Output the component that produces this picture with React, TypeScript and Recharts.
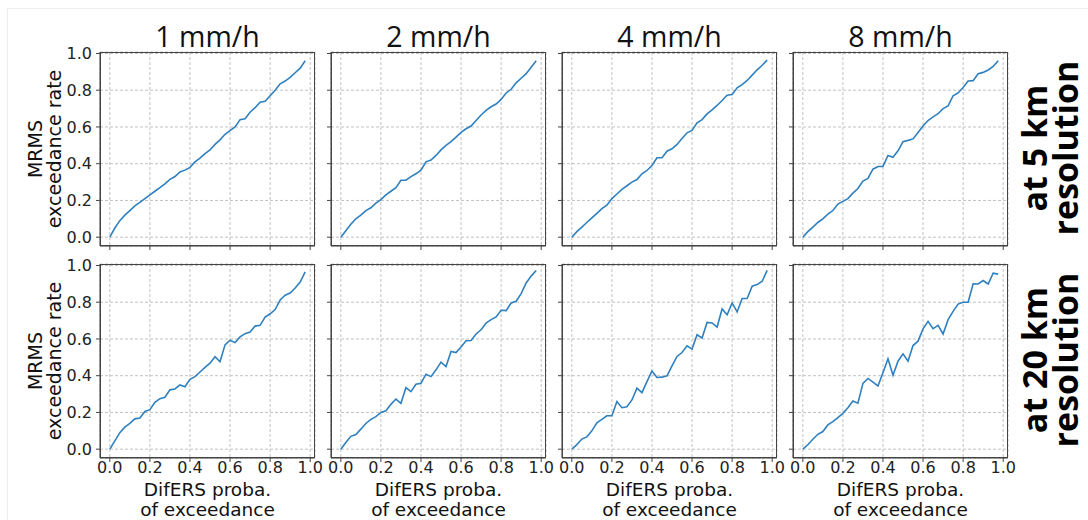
import React from "react";
import { LineChart, Line, XAxis, YAxis, CartesianGrid } from "recharts";

// DifERS probability of exceedance (x positions shared by all panels)
const PROBA = [
  0.0, 0.025, 0.05, 0.075, 0.1, 0.125, 0.15, 0.175, 0.2, 0.225,
  0.25, 0.275, 0.3, 0.325, 0.35, 0.375, 0.4, 0.425, 0.45, 0.475,
  0.5, 0.525, 0.55, 0.575, 0.6, 0.625, 0.65, 0.675, 0.7, 0.725,
  0.75, 0.775, 0.8, 0.825, 0.85, 0.875, 0.9, 0.925, 0.95, 0.975,
];

const THRESHOLDS = ["1 mm/h", "2 mm/h", "4 mm/h", "8 mm/h"];
const ROW_LABELS = [
  ["at 5 km", "resolution"],
  ["at 20 km", "resolution"],
];
const TICKS = [0, 0.2, 0.4, 0.6, 0.8, 1.0];

// MRMS exceedance rate, 5 km resolution
const RATE_5KM_1MM = [
  0.0, 0.05, 0.09, 0.12, 0.145, 0.17, 0.19, 0.21, 0.23, 0.25,
  0.27, 0.29, 0.315, 0.33, 0.355, 0.365, 0.38, 0.41, 0.43, 0.455,
  0.475, 0.505, 0.53, 0.56, 0.58, 0.6, 0.64, 0.645, 0.68, 0.705,
  0.735, 0.74, 0.77, 0.8, 0.835, 0.85, 0.87, 0.895, 0.92, 0.96,
];
const RATE_5KM_2MM = [
  0.0, 0.035, 0.07, 0.1, 0.12, 0.145, 0.16, 0.185, 0.205, 0.23,
  0.25, 0.27, 0.31, 0.31, 0.33, 0.345, 0.365, 0.41, 0.42, 0.445,
  0.475, 0.5, 0.52, 0.545, 0.57, 0.59, 0.605, 0.635, 0.665, 0.69,
  0.71, 0.725, 0.75, 0.785, 0.805, 0.84, 0.865, 0.89, 0.925, 0.96,
];
const RATE_5KM_4MM = [
  0.0, 0.03, 0.055, 0.08, 0.105, 0.13, 0.155, 0.174, 0.21, 0.235,
  0.26, 0.28, 0.3, 0.314, 0.345, 0.363, 0.39, 0.432, 0.432, 0.468,
  0.481, 0.505, 0.537, 0.568, 0.581, 0.622, 0.64, 0.671, 0.693, 0.717,
  0.744, 0.773, 0.777, 0.813, 0.83, 0.853, 0.882, 0.911, 0.936, 0.964,
];
const RATE_5KM_8MM = [
  0.0, 0.03, 0.055, 0.08, 0.1, 0.125, 0.145, 0.18, 0.195, 0.21,
  0.24, 0.265, 0.305, 0.32, 0.37, 0.385, 0.385, 0.445, 0.435, 0.47,
  0.52, 0.527, 0.535, 0.57, 0.605, 0.635, 0.655, 0.672, 0.7, 0.715,
  0.77, 0.785, 0.815, 0.85, 0.852, 0.89, 0.897, 0.91, 0.93, 0.96,
];

// MRMS exceedance rate, 20 km resolution
const RATE_20KM_1MM = [
  0.0, 0.045, 0.09, 0.12, 0.14, 0.165, 0.17, 0.205, 0.215, 0.255,
  0.275, 0.283, 0.323, 0.328, 0.35, 0.34, 0.38, 0.395, 0.42, 0.445,
  0.468, 0.503, 0.476, 0.568, 0.593, 0.58, 0.611, 0.629, 0.638, 0.67,
  0.674, 0.719, 0.737, 0.76, 0.812, 0.838, 0.85, 0.877, 0.91, 0.965,
];
const RATE_20KM_2MM = [
  0.0, 0.036, 0.07, 0.08, 0.109, 0.14, 0.162, 0.177, 0.2, 0.209,
  0.244, 0.273, 0.25, 0.335, 0.313, 0.353, 0.359, 0.408, 0.395, 0.432,
  0.474, 0.45, 0.532, 0.526, 0.556, 0.59, 0.592, 0.627, 0.65, 0.687,
  0.705, 0.72, 0.756, 0.754, 0.796, 0.805, 0.847, 0.905, 0.942, 0.973,
];
const RATE_20KM_4MM = [
  0.0, 0.025, 0.055, 0.067, 0.1, 0.144, 0.162, 0.182, 0.182, 0.259,
  0.226, 0.231, 0.268, 0.332, 0.308, 0.368, 0.426, 0.39, 0.392, 0.399,
  0.454, 0.505, 0.526, 0.563, 0.545, 0.623, 0.605, 0.69, 0.687, 0.665,
  0.763, 0.732, 0.796, 0.747, 0.82, 0.82, 0.887, 0.896, 0.914, 0.973,
];
const RATE_20KM_8MM = [
  0.0, 0.024, 0.054, 0.081, 0.096, 0.132, 0.15, 0.172, 0.195, 0.226,
  0.262, 0.25, 0.358, 0.385, 0.365, 0.344, 0.416, 0.492, 0.403, 0.479,
  0.519, 0.479, 0.564, 0.588, 0.655, 0.696, 0.656, 0.674, 0.627, 0.705,
  0.75, 0.79, 0.8, 0.8, 0.9, 0.899, 0.918, 0.899, 0.958, 0.953,
];

const SERIES = [
  [RATE_5KM_1MM, RATE_5KM_2MM, RATE_5KM_4MM, RATE_5KM_8MM],
  [RATE_20KM_1MM, RATE_20KM_2MM, RATE_20KM_4MM, RATE_20KM_8MM],
];

const BOX_LEFTS = [100, 331, 562, 793];
const BOX_TOPS = [52, 264];
const BOX_W = 215;
const BOX_H = 194;
const PAD_L = 60;
const PAD_T = 14;
const PAD_R = 8;
const PAD_B = 30;

const X_DOMAIN: [number, number] = [-0.049, 1.024];
const Y_DOMAIN: [number, number] = [-0.048, 1.008];

const MPL = "'DejaVu Sans', sans-serif";
const TITLE_FONT = "'Open Sans', sans-serif";
const FRAME = "#444";
const tickText = { fontFamily: MPL, fontSize: 16, fill: "#222" };
const fmt = (v: number) => v.toFixed(1);
const blank = () => "";

function Panel({ row, col }: { row: number; col: number }) {
  const values = SERIES[row][col];
  const data = PROBA.map((x, i) => ({ x, y: values[i] }));
  return (
    <div
      style={{
        position: "absolute",
        left: BOX_LEFTS[col] - PAD_L,
        top: BOX_TOPS[row] - PAD_T,
      }}
    >
      <LineChart
        width={PAD_L + BOX_W + PAD_R}
        height={PAD_T + BOX_H + PAD_B}
        data={data}
        margin={{ top: PAD_T, right: PAD_R, bottom: 0, left: 0 }}
      >
        <CartesianGrid stroke="#c2c2c2" strokeDasharray="3 2" />
        <XAxis
          dataKey="x"
          type="number"
          domain={X_DOMAIN}
          ticks={TICKS}
          allowDataOverflow
          tickFormatter={row === 1 ? fmt : blank}
          tick={tickText}
          tickLine={{ stroke: FRAME }}
          axisLine={{ stroke: FRAME }}
          tickSize={4}
          tickMargin={0}
          height={PAD_B}
          interval={0}
        />
        <YAxis
          type="number"
          domain={Y_DOMAIN}
          ticks={TICKS}
          allowDataOverflow
          tickFormatter={col === 0 ? fmt : blank}
          tick={tickText}
          tickLine={{ stroke: FRAME }}
          axisLine={{ stroke: FRAME }}
          tickSize={4}
          tickMargin={4}
          width={PAD_L}
          interval={0}
        />
        <Line
          type="linear"
          dataKey="y"
          stroke="#2f80bf"
          strokeWidth={1.6}
          dot={false}
          isAnimationActive={false}
        />
      </LineChart>
      {/* axes frame (matplotlib spines) */}
      <div
        style={{
          position: "absolute",
          left: PAD_L,
          top: PAD_T,
          width: BOX_W,
          height: BOX_H,
          boxSizing: "border-box",
          border: `1px solid ${FRAME}`,
          pointerEvents: "none",
        }}
      />
    </div>
  );
}

export default function App() {
  return (
    <div
      style={{
        position: "absolute",
        left: 0,
        top: 0,
        width: 1088,
        height: 520,
        background: "#fff",
        overflow: "hidden",
      }}
    >
      <div
        style={{
          position: "absolute",
          left: 7,
          top: 8,
          right: 0,
          bottom: 0,
          borderLeft: "1px solid #ececec",
          borderTop: "1px solid #ececec",
        }}
      />
      {BOX_TOPS.map((_, r) =>
        BOX_LEFTS.map((_, c) => <Panel key={`${r}-${c}`} row={r} col={c} />)
      )}
      <svg
        width={1088}
        height={520}
        style={{ position: "absolute", left: 0, top: 0, pointerEvents: "none" }}
      >
        {THRESHOLDS.map((t, c) => (
          <text
            key={t}
            x={BOX_LEFTS[c] + BOX_W / 2}
            y={47}
            textAnchor="middle"
            fontFamily={TITLE_FONT}
            fontSize={28.5}
            fill="#111"
          >
            {t}
          </text>
        ))}
        {BOX_TOPS.map((top, r) => {
          const cy = top + BOX_H / 2;
          return (
            <g key={`ylab-${r}`} fontFamily={MPL} fontSize={19} fill="#111">
              <text x={42} y={cy} textAnchor="middle" transform={`rotate(-90 42 ${cy})`}>
                MRMS
              </text>
              <text x={61} y={cy} textAnchor="middle" transform={`rotate(-90 61 ${cy})`}>
                exceedance rate
              </text>
            </g>
          );
        })}
        {BOX_LEFTS.map((left, c) => (
          <g key={`xlab-${c}`} fontFamily={MPL} fontSize={18.5} fill="#111" textAnchor="middle">
            <text x={left + BOX_W / 2} y={496}>
              DifERS proba.
            </text>
            <text x={left + BOX_W / 2} y={516}>
              of exceedance
            </text>
          </g>
        ))}
        {ROW_LABELS.map((lines, r) => {
          const cy = BOX_TOPS[r] + BOX_H / 2 - 1;
          return (
            <g key={`row-${r}`} fontFamily={TITLE_FONT} fontSize={34} fontWeight={700} fill="#000" textAnchor="middle">
              <text x={1047} y={cy} transform={`rotate(-90 1047 ${cy})`}>
                {lines[0]}
              </text>
              <text x={1078} y={cy} transform={`rotate(-90 1078 ${cy})`}>
                {lines[1]}
              </text>
            </g>
          );
        })}
      </svg>
    </div>
  );
}
